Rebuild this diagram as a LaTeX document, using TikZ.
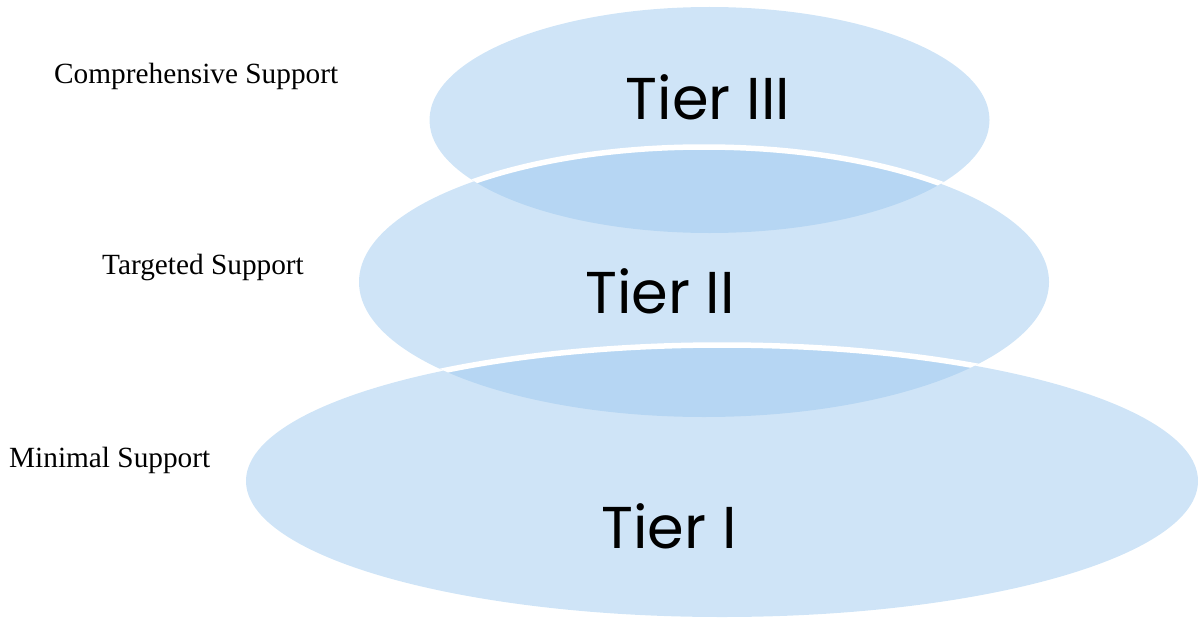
\documentclass[tikz,border=0pt]{standalone}
\usepackage{fontspec}
\setmainfont{Liberation Serif}
\newfontfamily\tierfont{Poppins}
\definecolor{tierblue}{RGB}{155,199,238}
\tikzset{
  tierfill/.style={fill=tierblue, fill opacity=0.48, draw=none},
  tierline/.style={draw=white, line width=5.5pt},
  tiertext/.style={font=\tierfont\fontsize{59}{66}\selectfont, anchor=base, inner sep=0pt},
  sidelabel/.style={font=\fontsize{29.3}{32}\selectfont, anchor=base west, inner sep=0pt}
}
\begin{document}
\begin{tikzpicture}[x=1pt,y=-1pt]
\useasboundingbox (0,0) rectangle (1198,618);
% fills
\path[tierfill] (709.5,120) ellipse [x radius=280, y radius=113];
\path[tierfill] (704,282) ellipse [x radius=345, y radius=135];
\path[tierfill] (722,481) ellipse [x radius=476, y radius=136];
% white edges inside overlaps
\begin{scope}
  \clip (709.5,120) ellipse [x radius=280, y radius=113];
  \path[tierline] (704,282) ellipse [x radius=345, y radius=135];
\end{scope}
\begin{scope}
  \clip (704,282) ellipse [x radius=345, y radius=135];
  \path[tierline] (722,481) ellipse [x radius=476, y radius=136];
\end{scope}
% tier texts
\node[tiertext] (t3) at (708,119) {Tier III};
\node[tiertext] (t2) at (660,313) {Tier II};
\node[tiertext] (t1) at (669,548) {Tier I};
% side labels
\node[sidelabel] (l3) at (54,83) {Comprehensive Support};
\node[sidelabel] (l2) at (102,274) {Targeted Support};
\node[sidelabel] (l1) at (9,467) {Minimal Support};
\end{tikzpicture}
\end{document}
